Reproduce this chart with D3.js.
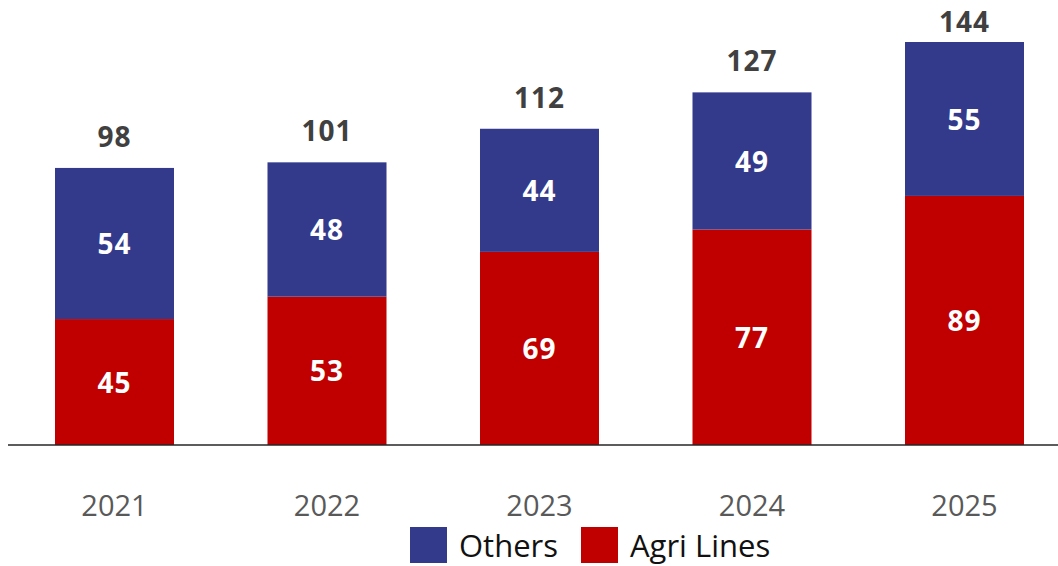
<!DOCTYPE html>
<html>
<head>
<meta charset="utf-8">
<script src="https://cdn.jsdelivr.net/npm/d3@7"></script>
<style>
  html, body { margin: 0; padding: 0; background: #ffffff; }
  svg { display: block; font-family: "Open Sans", "DejaVu Sans", sans-serif; }
</style>
</head>
<body>
<svg id="chart" width="1058" height="566"></svg>
<script>
// Yearly volumes split into two product groups
const years = ["2021", "2022", "2023", "2024", "2025"];
const agriLines = [45, 53, 69, 77, 89];
const others = [54, 48, 44, 49, 55];
const totals = [98, 101, 112, 127, 144];
const seriesNames = ["Others", "Agri Lines"];

const colors = { "Agri Lines": "#c00000", "Others": "#333a8c" };

const svg = d3.select("#chart");
const baseY = 445;

const rows = years.map((y, i) => ({ year: y, "Agri Lines": agriLines[i], "Others": others[i], total: totals[i] }));

const x = d3.scaleBand()
  .domain(years)
  .range([8.25, 1070.75])
  .paddingInner(0.44)
  .paddingOuter(0.22);

const y = d3.scaleLinear()
  .domain([0, 144])
  .range([baseY, 42]);

const stack = d3.stack().keys(["Agri Lines", "Others"]);
const layers = stack(rows);

// stacked bars
const g = svg.append("g");
layers.forEach(layer => {
  const key = layer.key;
  g.selectAll(null)
    .data(layer)
    .enter()
    .append("rect")
    .attr("x", d => x(d.data.year))
    .attr("width", x.bandwidth())
    .attr("y", d => y(d[1]))
    .attr("height", d => y(d[0]) - y(d[1]))
    .attr("fill", colors[key]);

  // value labels inside each segment
  g.selectAll(null)
    .data(layer)
    .enter()
    .append("text")
    .attr("x", d => x(d.data.year) + x.bandwidth() / 2)
    .attr("y", d => (y(d[0]) + y(d[1])) / 2)
    .attr("dy", "0.38em")
    .attr("text-anchor", "middle")
    .attr("fill", "#ffffff")
    .attr("font-weight", 700)
    .attr("font-size", 28)
    .attr("letter-spacing", 1)
    .text(d => d.data[key]);
});

// totals above bars (kept inside the top edge)
g.selectAll(".total")
  .data(rows)
  .enter()
  .append("text")
  .attr("class", "total")
  .attr("x", d => x(d.year) + x.bandwidth() / 2)
  .attr("y", d => Math.max(y(d["Agri Lines"] + d["Others"]) - 21, 32))
  .attr("text-anchor", "middle")
  .attr("fill", "#404040")
  .attr("font-weight", 700)
  .attr("font-size", 28)
  .attr("letter-spacing", 1)
  .text(d => d.total);

// category axis
const axis = d3.axisBottom(x).tickSize(0).tickPadding(50);
const ax = svg.append("g")
  .attr("transform", `translate(0,${baseY})`)
  .call(axis);
ax.select(".domain").remove();
ax.append("line")
  .attr("x1", 8).attr("x2", 1058)
  .attr("y1", 0).attr("y2", 0)
  .attr("stroke", "#262626")
  .attr("stroke-width", 1.5);
ax.selectAll(".tick text")
  .attr("font-family", "'Open Sans', 'DejaVu Sans', sans-serif")
  .attr("font-size", 29)
  .attr("fill", "#595959");

// legend
const legend = svg.append("g");
const legendItems = [
  { name: "Others", x: 410 },
  { name: "Agri Lines", x: 581 }
];
legendItems.forEach(it => {
  legend.append("rect")
    .attr("x", it.x).attr("y", 527)
    .attr("width", 37).attr("height", 36)
    .attr("fill", colors[it.name]);
  legend.append("text")
    .attr("x", it.x + 49).attr("y", 546)
    .attr("dy", "0.36em")
    .attr("font-size", 31)
    .attr("fill", "#111111")
    .text(it.name);
});
</script>
</body>
</html>
